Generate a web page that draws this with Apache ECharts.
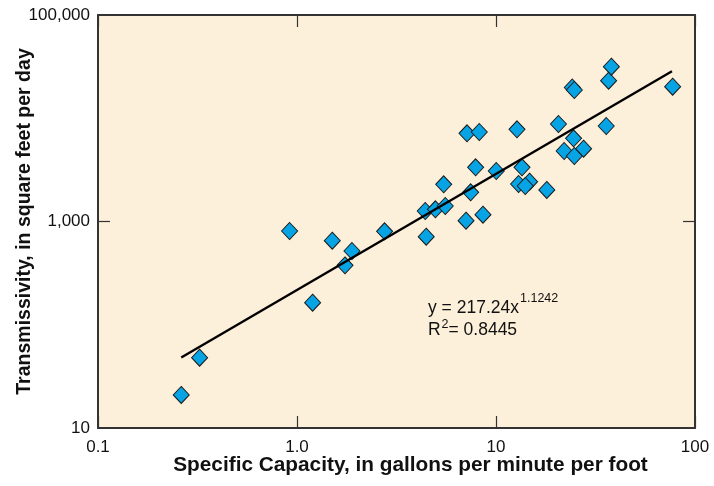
<!DOCTYPE html>
<html>
<head>
<meta charset="utf-8">
<script src="https://cdn.jsdelivr.net/npm/echarts@6/dist/echarts.min.js"></script>
<style>
html,body{margin:0;padding:0;background:#fff;}
#chart{width:714px;height:486px;}
</style>
</head>
<body>
<div id="chart"></div>
<script>
// Specific capacity (gpm/ft) of each well
const capacityValues = [0.262, 0.324, 0.918, 1.198, 1.504, 1.743, 1.889, 2.755, 4.41, 4.96, 5.56, 4.46, 5.46,
  7.07, 8.60, 7.46, 7.90, 7.15, 8.24, 10.03, 12.75, 13.51, 12.99, 14.75, 14.03, 18.0, 20.6, 22.0, 24.75,
  24.54, 27.55, 24.18, 24.75, 35.8, 36.8, 38.0, 77.2];
// Transmissivity (ft2/day) of each well
const transmissivityValues = [20.9, 48.0, 809, 163.5, 652, 376, 518, 804, 1264, 1313, 1413, 712, 2293,
  1018, 1164, 1918, 3349, 7147, 7358, 3084, 7816, 3349, 2308, 2429, 2207, 2020, 8796, 4817, 4309,
  6393, 5071, 19850, 18780, 8413, 23100, 31570, 20210];
// Fitted power-law trend line end points (y = 217.24x^1.1242)
const trendX = [0.262, 76.6];
const trendY = [48.2, 28520];
// Tick labels
const xTickValues = [0.1, 1, 10, 100];
const xTickLabels = ['0.1', '1.0', '10', '100'];
const yTickValues = [10, 1000, 100000];
const yTickLabels = ['10', '1,000', '100,000'];
const yTickMarks = [1000];
const xTitle = 'Specific Capacity, in gallons per minute per foot';
const yTitle = 'Transmissivity, in square feet per day';
const eqText = ['y = 217.24x', '1.1242', 'R', '2', '= 0.8445'];

const scatterData = capacityValues.map((x, i) => [x, transmissivityValues[i]]);
const trendData = trendX.map((x, i) => [x, trendY[i]]);

function labelFor(values, labels) {
  return function (v) {
    const e = Math.round(Math.log10(v));
    for (let i = 0; i < values.length; i++) {
      if (Math.round(Math.log10(values[i])) === e) return labels[i];
    }
    return '';
  };
}

const axisLineStyle = { color: '#333', width: 2 };
const tickFont = { fontFamily: 'Liberation Sans', fontSize: 17, color: '#111' };
const eqFont = 'Liberation Sans';

const chart = echarts.init(document.getElementById('chart'), null, { renderer: 'canvas' });
chart.setOption({
  animation: false,
  backgroundColor: '#ffffff',
  grid: { left: 98, right: 19, top: 15, bottom: 58, show: true, backgroundColor: '#FDF0DA', borderWidth: 0,
    containLabel: false, outerBoundsMode: 'none' },
  xAxis: [
    {
      type: 'log', logBase: 10, min: 0.1, max: 100, position: 'bottom',
      axisLine: { show: true, lineStyle: axisLineStyle },
      axisTick: { show: true, inside: true, length: 12, lineStyle: { color: '#333', width: 1.2 } },
      axisLabel: Object.assign({ margin: 11, formatter: labelFor(xTickValues, xTickLabels) }, tickFont),
      splitLine: { show: false },
      minorTick: { show: false },
      name: xTitle, nameLocation: 'middle', nameGap: 27, nameMoveOverlap: false,
      nameTextStyle: { fontFamily: 'Liberation Sans', fontWeight: 'bold', fontSize: 20.8, color: '#111', padding: [0, 0, 0, 28] }
    },
    {
      type: 'log', logBase: 10, min: 0.1, max: 100, position: 'top',
      axisLine: { show: true, lineStyle: axisLineStyle },
      axisTick: { show: true, inside: true, length: 12, lineStyle: { color: '#333', width: 1.2 } },
      axisLabel: { show: false },
      splitLine: { show: false }
    }
  ],
  yAxis: [
    {
      type: 'log', logBase: 10, min: 10, max: 100000, position: 'left',
      axisLine: { show: true, lineStyle: axisLineStyle },
      axisTick: { show: true, inside: true, length: 12, customValues: yTickMarks, lineStyle: { color: '#333', width: 1.2 } },
      axisLabel: Object.assign({ margin: 8, formatter: labelFor(yTickValues, yTickLabels) }, tickFont),
      splitLine: { show: false },
      name: yTitle, nameLocation: 'middle', nameGap: 63, nameMoveOverlap: false,
      nameTextStyle: { fontFamily: 'Liberation Sans', fontWeight: 'bold', fontSize: 19.5, color: '#111' }
    },
    {
      type: 'log', logBase: 10, min: 10, max: 100000, position: 'right',
      axisLine: { show: true, lineStyle: axisLineStyle },
      axisTick: { show: true, inside: true, length: 12, customValues: yTickMarks, lineStyle: { color: '#333', width: 1.2 } },
      axisLabel: { show: false },
      splitLine: { show: false }
    }
  ],
  series: [
    {
      type: 'scatter', xAxisIndex: 0, yAxisIndex: 0,
      symbol: 'diamond', symbolSize: [16, 17],
      itemStyle: { color: '#06A4E4', borderColor: '#1a1a1a', borderWidth: 1, opacity: 1 },
      data: scatterData, z: 2
    },
    {
      type: 'line', xAxisIndex: 0, yAxisIndex: 0,
      showSymbol: false, symbol: 'none',
      lineStyle: { color: '#000', width: 2.4 },
      data: trendData, z: 3
    }
  ],
  graphic: [
    { type: 'text', x: 428, y: 299.5, style: { text: eqText[0], fontFamily: eqFont, fontSize: 17.5, fill: '#111' } },
    { type: 'text', x: 520, y: 292.5, style: { text: eqText[1], fontFamily: eqFont, fontSize: 12.5, fill: '#111' } },
    { type: 'text', x: 428, y: 321, style: { text: eqText[2], fontFamily: eqFont, fontSize: 17.5, fill: '#111' } },
    { type: 'text', x: 441.5, y: 318.5, style: { text: eqText[3], fontFamily: eqFont, fontSize: 12.5, fill: '#111' } },
    { type: 'text', x: 448.5, y: 321, style: { text: eqText[4], fontFamily: eqFont, fontSize: 17.5, fill: '#111' } }
  ]
});
</script>
</body>
</html>
